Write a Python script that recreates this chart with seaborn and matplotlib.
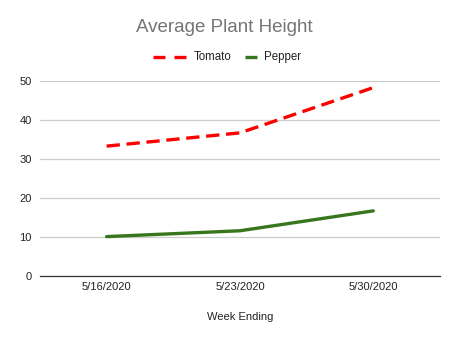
import matplotlib
matplotlib.use("Agg")
import matplotlib.pyplot as plt
import seaborn as sns
import pandas as pd
from matplotlib.lines import Line2D

weeks = ["5/16/2020", "5/23/2020", "5/30/2020"]
tomato = [33.3, 36.7, 48.3]
pepper = [10.1, 11.6, 16.7]

df = pd.DataFrame({
    "Week Ending": weeks * 2,
    "Height": tomato + pepper,
    "Plant": ["Tomato"] * 3 + ["Pepper"] * 3,
})

sns.set_theme(style="white")
plt.rcParams["font.family"] = ["Liberation Sans", "DejaVu Sans"]

W, H = 454, 341
LW = 2.4
fig = plt.figure(figsize=(4.54, 3.41), dpi=100)
ax = fig.add_axes([0.088, 0.1906, 0.881, 0.5719])

palette = {"Tomato": "#ff0000", "Pepper": "#38761d"}
sns.lineplot(data=df, x="Week Ending", y="Height", hue="Plant", palette=palette,
             linewidth=LW, ax=ax, legend=False, sort=False)
lines = ax.get_lines()
lines[0].set_dashes([4.0, 2.0])
for ln in lines:
    ln.set_solid_joinstyle("round")
    ln.set_dash_joinstyle("round")

ax.set_xlim(-0.5, 2.5)
ax.set_ylim(0, 50)
ax.set_yticks([0, 10, 20, 30, 40, 50])
ax.yaxis.grid(True, color="#cccccc", linewidth=0.9)
ax.set_axisbelow(True)
for s in ["top", "right", "left"]:
    ax.spines[s].set_visible(False)
ax.spines["bottom"].set_color("#333333")
ax.spines["bottom"].set_linewidth(0.9)
ax.tick_params(axis="both", length=0, labelsize=8, colors="#222222", pad=4)
ax.tick_params(axis="y", pad=6)
ax.set_ylabel("")
ax.set_xlabel("Week Ending", fontsize=8, color="#222222", labelpad=15)

fig.text(0.495, 0.918, "Average Plant Height", ha="center", va="center",
         fontsize=13.5, color="#757575")

# manual legend (pixel positions converted to figure fractions)
ly = 1 - 57 / H
for x0, x1 in [(153, 165), (174, 186)]:
    fig.add_artist(Line2D([x0 / W, x1 / W], [ly, ly], color="#ff0000", linewidth=LW,
                          solid_capstyle="butt", transform=fig.transFigure))
fig.text(194 / W, ly, "Tomato", ha="left", va="center", fontsize=8.3, color="#222222")
fig.add_artist(Line2D([245 / W, 257 / W], [ly, ly], color="#38761d", linewidth=LW,
                      solid_capstyle="butt", transform=fig.transFigure))
fig.text(264 / W, ly, "Pepper", ha="left", va="center", fontsize=8.3, color="#222222")

fig.savefig("out.png", dpi=100)
